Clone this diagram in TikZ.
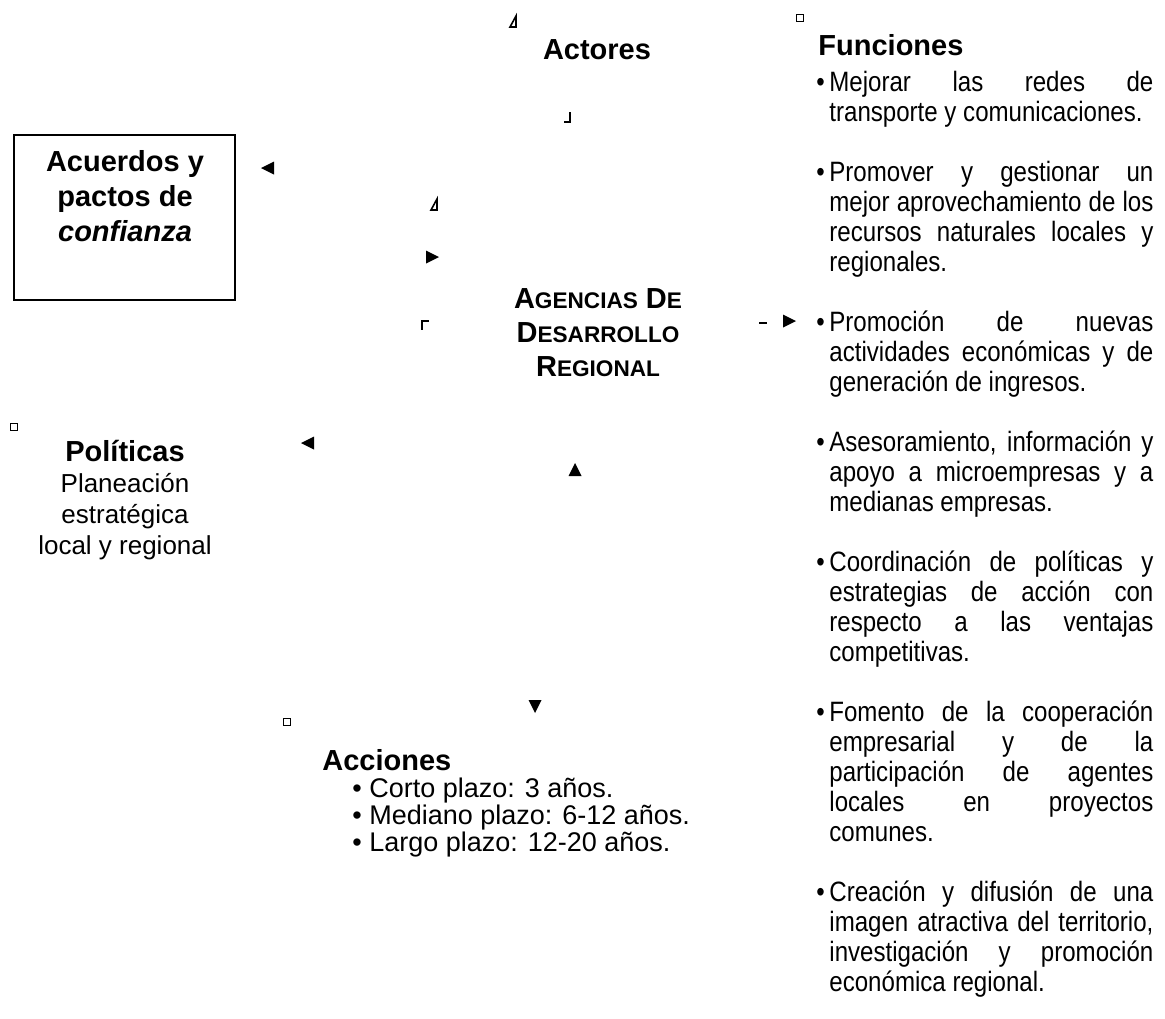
\documentclass[tikz,border=0pt]{standalone}
\usepackage{fontspec}
\setmainfont{Liberation Sans}
\newfontfamily\narrowfont[FakeStretch=0.86]{Liberation Sans}
\usetikzlibrary{positioning}
\newcommand{\capsc}[2]{#1{\fontsize{11.3}{17}\selectfont #2}}
\newcommand{\funitem}[1]{\par\noindent\hangindent=6.5pt\hangafter=1
  \makebox[6.5pt][l]{\textbullet}#1\par}
\tikzset{
  headtext/.style  ={font=\fontsize{14.5}{17.5}\selectfont\bfseries,
                     align=center, inner sep=0pt},
  plaintext/.style ={font=\fontsize{13}{15.5}\selectfont,
                     align=center, inner sep=0pt},
  listtext/.style  ={font=\fontsize{13.5}{13.5}\selectfont,
                     align=left, inner sep=0pt},
  funtext/.style   ={font=\narrowfont\fontsize{14}{15}\selectfont,
                     text width=168.5pt, align=justify, inner sep=0pt},
  markline/.style  ={line width=1pt},
  pics/tipmark/.style  ={code={\fill (-6,-6.5) -- (7,0) -- (-6,6.5) -- cycle;}},
  pics/slantmark/.style={code={\draw[line width=0.8pt] (-3,5) -- (3,5) -- (3,-6) -- cycle;}},
  pics/footmark/.style ={code={\draw[markline] (3,-6) -- (3,4) -- (-3,4);}},
  pics/headmark/.style ={code={\draw[markline] (4,-4) -- (-3,-4) -- (-3,5);}},
  pics/dashmark/.style ={code={\draw[line width=1.4pt] (-4,0) -- (4,0);}},
  pics/boxmark/.style  ={code={\draw[line width=0.8pt] (-3.5,-3.5) rectangle (3.5,3.5);}},
}
\begin{document}
\begin{tikzpicture}[x=0.5pt,y=-0.5pt]
    \fill[white] (0,0) rectangle (1165,1018);
    \useasboundingbox (0,0) rectangle (1165,1018);

    % Actores
    \pic (markactL) at (513,22) {slantmark};
    \node[headtext] (actores) at (597,50) {Actores};
    \pic (markactR) at (567,118) {footmark};

    % Acuerdos box
    \node[draw, line width=0.6pt, minimum width=110.5pt, minimum height=82.5pt]
      (acuerdosbox) at (124.5,217.5) {};
    \node[headtext] (acuerdos) at (125,196)
      {Acuerdos y\\pactos de\\\textit{confianza}};
    \pic[rotate=180] (tipacuerdos) at (268,168) {tipmark};
    \pic (markagL) at (434,205) {slantmark};
    \pic (tipagencias) at (432,257) {tipmark};
    \pic (markagC) at (425,325) {headmark};

    % Agencias
    \node[headtext, font=\fontsize{14.5}{17}\selectfont\bfseries] (agencias) at (598,333)
      {\capsc{A}{GENCIAS} \capsc{D}{E}\\\capsc{D}{ESARROLLO}\\\capsc{R}{EGIONAL}};
    \pic (markagR) at (763,323) {dashmark};
    \pic (tipfunciones) at (789,321) {tipmark};

    % Politicas
    \pic (markpol) at (14,427) {boxmark};
    \node[plaintext] (politicas) at (125,500)
      {{\fontsize{14.5}{15.5}\selectfont\bfseries Políticas}\\Planeación\\estratégica\\local y regional};
    \pic[rotate=180] (tippoliticas) at (308,443) {tipmark};
    \pic[rotate=90] (tipup) at (575,470) {tipmark};
    \pic[rotate=-90] (tipdown) at (535,706) {tipmark};

    % Acciones
    \pic (markacc) at (287,722) {boxmark};
    \node[headtext, anchor=west] (acciones) at (322,760) {Acciones};
    \node[listtext, anchor=north west] (acclist) at (352,778)
      {\textbullet\ Corto plazo: 3 años.\\
       \textbullet\ Mediano plazo: 6-12 años.\\
       \textbullet\ Largo plazo: 12-20 años.};

    % Funciones
    \pic (markfun) at (800,18) {boxmark};
    \node[headtext, anchor=west] (funciones) at (818,45) {Funciones};
    \node[funtext, anchor=north west] (funlist) at (816,61)
      {\funitem{Mejorar las redes de\linebreak transporte y comunicaciones.}
       \vspace{15pt}
       \funitem{Promover y gestionar un\linebreak mejor aprovechamiento de los\linebreak
         recursos naturales locales y\linebreak regionales.}
       \vspace{15pt}
       \funitem{Promoción de nuevas\linebreak actividades económicas y de\linebreak
         generación de ingresos.}
       \vspace{15pt}
       \funitem{Asesoramiento, información y\linebreak apoyo a microempresas y a\linebreak
         medianas empresas.}
       \vspace{15pt}
       \funitem{Coordinación de políticas y\linebreak estrategias de acción con\linebreak
         respecto a las ventajas\linebreak competitivas.}
       \vspace{15pt}
       \funitem{Fomento de la cooperación\linebreak empresarial y de la\linebreak
         participación de agentes\linebreak locales en proyectos\linebreak comunes.}
       \vspace{15pt}
       \funitem{Creación y difusión de una\linebreak imagen atractiva del territorio,\linebreak
         investigación y promoción\linebreak económica regional.}};
\end{tikzpicture}
\end{document}
